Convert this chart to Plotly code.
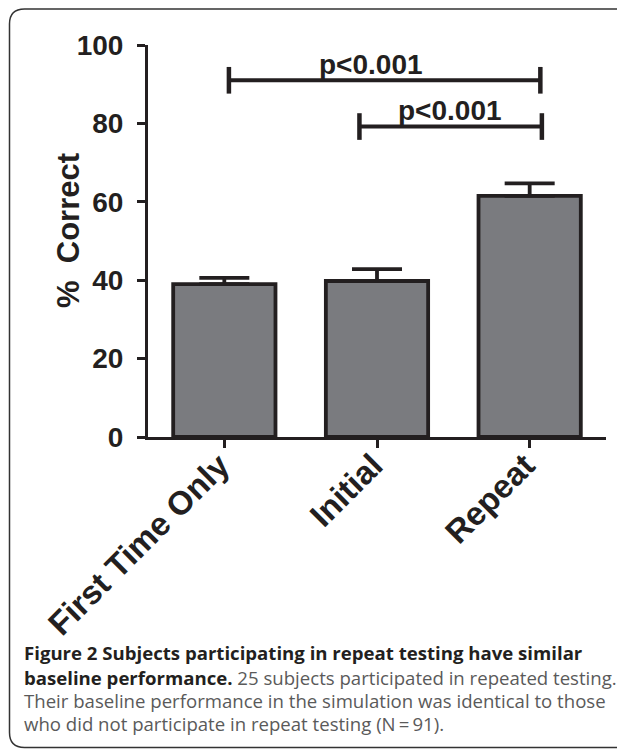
import plotly.graph_objects as go

categories = ["First Time Only", "Initial", "Repeat"]
pct_correct = [39.0, 39.8, 61.5]
sem = [1.6, 3.0, 3.2]
tick_vals = [0, 20, 40, 60, 80, 100]
brackets = [  # (x_start, x_end, y, label, label_x)
    (0.03, 2.07, 91.0, "p<0.001", 0.96),
    (0.885, 2.08, 79.2, "p<0.001", 1.48),
]
caption_lines = [
    "<b><span style='color:#231f20'>Figure 2 Subjects participating in repeat testing have similar</span></b>",
    "<b><span style='color:#231f20'>baseline performance.</span></b> 25 subjects participated in repeated testing.",
    "Their baseline performance in the simulation was identical to those",
    "who did not participate in repeat testing (N\u2009=\u200991).",
]

OFF = 8  # page body margin
W, H = 625 - OFF, 750 - OFF
# plot area in page pixels: x 148..606, y 45..437
L, T = 148 - OFF, 45 - OFF
R = W - (606 - OFF)
B = H - (437 - OFF)
pw, ph = W - L - R, H - T - B


def px_x(p):  # page px -> paper
    return (p - OFF - L) / pw


def px_y(p):
    return (437 - p) / ph


fig = go.Figure()
fig.add_trace(go.Bar(
    x=[0, 1, 2], y=pct_correct, width=0.67,
    marker=dict(color="#7a7b7f", line=dict(color="#231f20", width=3.8)),
    error_y=dict(type="data", array=sem, arrayminus=[0, 0, 0], symmetric=False,
                 color="#231f20", thickness=3.8, width=25),
    showlegend=False, hoverinfo="skip",
))

shapes = []
annotations = []
for x0, x1, y, lab, lx in brackets:
    shapes.append(dict(type="line", xref="x", yref="y", x0=x0, x1=x1, y0=y, y1=y,
                       line=dict(color="#231f20", width=4)))
    for xx in (x0, x1):
        shapes.append(dict(type="line", xref="x", yref="y", x0=xx, x1=xx, y0=y - 3.4, y1=y + 3.4,
                           line=dict(color="#231f20", width=4.5)))
    annotations.append(dict(xref="x", yref="y", x=lx, y=y + 4.0, text=f"<b>{lab}</b>",
                            showarrow=False, yanchor="middle",
                            font=dict(family="Liberation Sans, Arial", size=28, color="#231f20")))

# x category labels (rotated)
for i, c in enumerate(categories):
    annotations.append(dict(xref="x", yref="paper", x=i, y=0, text=f"<b>{c}</b>", textangle=-45,
                            showarrow=False, xanchor="right", yanchor="top", xshift=15, yshift=-7,
                            font=dict(family="Liberation Sans, Arial", size=33, color="#231f20")))

# y axis title
annotations.append(dict(xref="paper", yref="paper", x=px_x(68), y=px_y(231),
                        text="<b>%  Correct</b>", textangle=-90, showarrow=False,
                        xanchor="center", yanchor="middle",
                        font=dict(family="Liberation Sans, Arial", size=31, color="#231f20")))

# caption
cap_y = [652, 677, 700, 723.5]
for line, yy in zip(caption_lines, cap_y):
    annotations.append(dict(xref="paper", yref="paper", x=px_x(22), y=px_y(yy), text=line,
                            showarrow=False, xanchor="left", yanchor="middle", align="left",
                            font=dict(family="Open Sans", size=18.6, color="#5a5a5a")))

# rounded border (right side off-page)
x0p, x1p = px_x(9.5), px_x(650)
y0p, y1p = px_y(9), px_y(747.5)
rx, ry = 15 / pw, 15 / ph
path = (f"M {x1p},{y0p} L {x0p + rx},{y0p} Q {x0p},{y0p} {x0p},{y0p - ry} "
        f"L {x0p},{y1p + ry} Q {x0p},{y1p} {x0p + rx},{y1p} L {x1p},{y1p}")
shapes.append(dict(type="path", xref="paper", yref="paper", path=path,
                   line=dict(color="#333333", width=1.5)))

fig.update_layout(
    width=W, height=H,
    margin=dict(l=L, r=R, t=T, b=B, pad=0),
    paper_bgcolor="white", plot_bgcolor="white",
    shapes=shapes, annotations=annotations,
    xaxis=dict(range=[-0.5, 2.5], tickmode="array", tickvals=[0, 1, 2], showticklabels=False,
               ticks="outside", ticklen=8, tickwidth=3, tickcolor="#231f20",
               showline=True, linecolor="#231f20", linewidth=3, showgrid=False, zeroline=False,
               fixedrange=True),
    yaxis=dict(range=[0, 100], tickmode="array", tickvals=tick_vals, ticktext=[f"<b>{v}</b>" for v in tick_vals],
               ticks="outside", ticklen=8, tickwidth=3, tickcolor="#231f20", ticklabelstandoff=8,
               showline=True, linecolor="#231f20", linewidth=3, showgrid=False, zeroline=False,
               tickfont=dict(family="Liberation Sans, Arial", size=28, color="#231f20"), fixedrange=True),
)

fig.write_html("out.html", config={"displayModeBar": False})
